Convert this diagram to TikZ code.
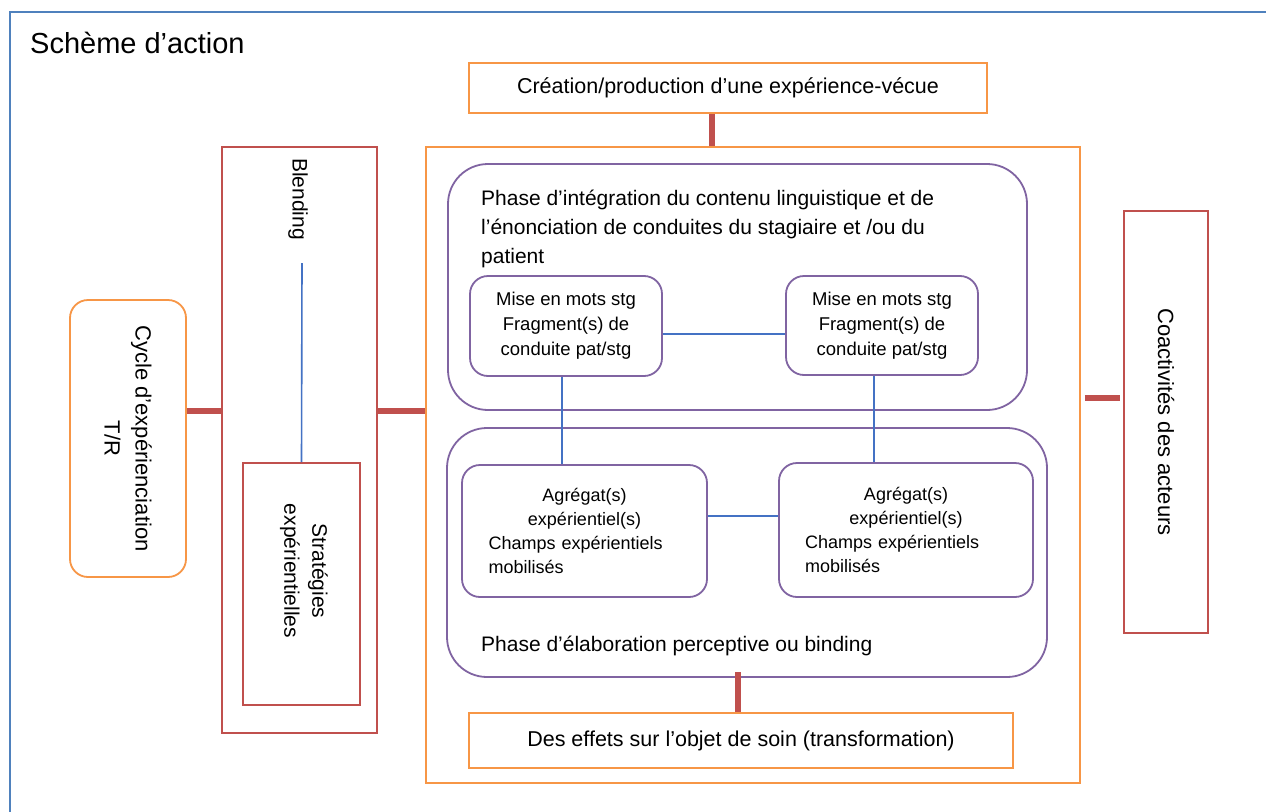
\documentclass[tikz,border=0pt]{standalone}
\usepackage{fontspec}
\setmainfont{Liberation Sans}
\definecolor{frameblue}{HTML}{4F81BD}
\definecolor{boxorange}{HTML}{F79646}
\definecolor{boxred}{HTML}{C0504D}
\definecolor{phasepurple}{HTML}{8064A2}
\definecolor{linkblue}{HTML}{4472C4}
\tikzset{
    frameline/.style={draw=frameblue, line width=2.2pt},
    orangebox/.style={rectangle, draw=boxorange, line width=1.8pt, inner sep=0pt},
    redbox/.style={rectangle, draw=boxred, line width=1.8pt, inner sep=0pt},
    phasebox/.style={rectangle, draw=phasepurple, line width=1.8pt, rounded corners=40pt, inner sep=0pt},
    stepbox/.style={rectangle, draw=phasepurple, line width=1.8pt, rounded corners=18pt, inner sep=0pt},
    redlink/.style={draw=boxred, line width=6pt},
    bluelink/.style={draw=linkblue, line width=1.6pt},
    titletext/.style={font=\fontsize{29}{34}\selectfont},
    boxtext/.style={font=\fontsize{21.5}{26}\selectfont},
    phasetext/.style={font=\fontsize{21}{29}\selectfont, inner sep=0pt},
    steptext/.style={font=\fontsize{18.5}{25}\selectfont, align=center},
    agrtext/.style={font=\fontsize{18}{24}\selectfont, align=left, inner sep=0pt},
    sidetext/.style={font=\fontsize{22}{31}\selectfont, rotate=-90, align=center, inner sep=0pt}
}
\begin{document}
\begin{tikzpicture}[x=1pt, y=-1pt]
    \clip (0,0) rectangle (1266,811);
    \fill[white] (0,0) rectangle (1266,811);
    \draw[frameline] (10,12) rectangle (1290,830);
    \node[titletext, anchor=west, inner sep=0pt] (title) at (30,43) {Schème d’action};

    % boxes
    \node[orangebox, boxtext, minimum width=518pt, minimum height=50pt] (crea) at (728,88) {Création/production d’une expérience-vécue};
    \node[orangebox, minimum width=654pt, minimum height=636pt] (scene) at (753,465) {};
    \node[phasebox, minimum width=579pt, minimum height=246pt] (integ) at (737.5,287) {};
    \node[stepbox, steptext, minimum width=192pt, minimum height=100pt] (mise1) at (566,326) {Mise en mots stg\\Fragment(s) de\\conduite pat/stg};
    \node[stepbox, steptext, minimum width=192pt, minimum height=99pt] (mise2) at (882,325.5) {Mise en mots stg\\Fragment(s) de\\conduite pat/stg};
    \node[phasebox, minimum width=600pt, minimum height=249pt] (elab) at (747,552.5) {};
    \node[stepbox, minimum width=245pt, minimum height=132pt] (agr1) at (584.5,531) {};
    \node[stepbox, minimum width=254pt, minimum height=134pt] (agr2) at (906,530) {};
    \node[orangebox, boxtext, minimum width=544pt, minimum height=55pt] (effets) at (741,740.5) {Des effets sur l’objet de soin (transformation)};
    \node[redbox, minimum width=155pt, minimum height=586pt] (blending) at (299.5,440) {};
    \node[redbox, minimum width=117pt, minimum height=242pt] (strat) at (301.5,584) {};
    \node[orangebox, rounded corners=18pt, minimum width=116pt, minimum height=277pt] (cycle) at (128,438.5) {};
    \node[redbox, minimum width=84pt, minimum height=422pt] (coact) at (1166,422) {};

    % texts
    \node[phasetext, anchor=north west, align=left] (integtxt) at (481,190) {Phase d’intégration du contenu linguistique et de\\l’énonciation de conduites du stagiaire et /ou du\\patient};
    \node[phasetext, anchor=base west] (elabtxt) at (481,651) {Phase d’élaboration perceptive ou binding};
    \node[agrtext, text width=192pt] (agr1txt) at (agr1.center) {\hfill Agrégat(s)\hfill\null\\\hfill expérientiel(s)\hfill\null\\Champs expérientiels\\mobilisés};
    \node[agrtext, text width=202pt] (agr2txt) at (agr2.center) {\hfill Agrégat(s)\hfill\null\\\hfill expérientiel(s)\hfill\null\\Champs expérientiels\\mobilisés};
    \node[sidetext] (cycletxt) at (cycle.center) {Cycle d’expérienciation\\T/R};
    \node[sidetext, font=\fontsize{21}{28}\selectfont] (blendtxt) at (298,199) {Blending};
    \node[sidetext, font=\fontsize{21}{28}\selectfont] (strattxt) at (304,571) {Stratégies\\expérientielles};
    \node[sidetext] (coacttxt) at (coact.center) {Coactivités des acteurs};

    % links
    \coordinate (midlink) at (0,411);
    \coordinate (coactlink) at (0,398);
    \coordinate (blendend) at (302,263);
    \draw[redlink] ([xshift=-16pt]crea.south) -- ([xshift=-16pt]crea.south |- scene.north);
    \draw[redlink] (cycle.east |- midlink) -- (blending.west |- midlink);
    \draw[redlink] (blending.east |- midlink) -- (scene.west |- midlink);
    \draw[redlink] ([xshift=4pt]scene.east |- coactlink) -- ([xshift=-3pt]coact.west |- coactlink);
    \draw[redlink] ([xshift=-3pt]effets.north) -- ([xshift=-3pt,yshift=6pt]effets.north |- elab.south);
    \draw[bluelink] (blendend) -- (strat.north);
    \draw[bluelink] ([yshift=-8pt]mise1.east) -- ([yshift=-8pt]mise1.east -| mise2.west);
    \draw[bluelink] ([xshift=-4pt]mise1.south) -- ([xshift=-4pt]mise1.south |- agr1.north);
    \draw[bluelink] ([xshift=-8pt]mise2.south) -- ([xshift=-8pt]mise2.south |- agr2.north);
    \draw[bluelink] ([yshift=15pt]agr1.east) -- ([yshift=15pt]agr1.east -| agr2.west);
\end{tikzpicture}
\end{document}
